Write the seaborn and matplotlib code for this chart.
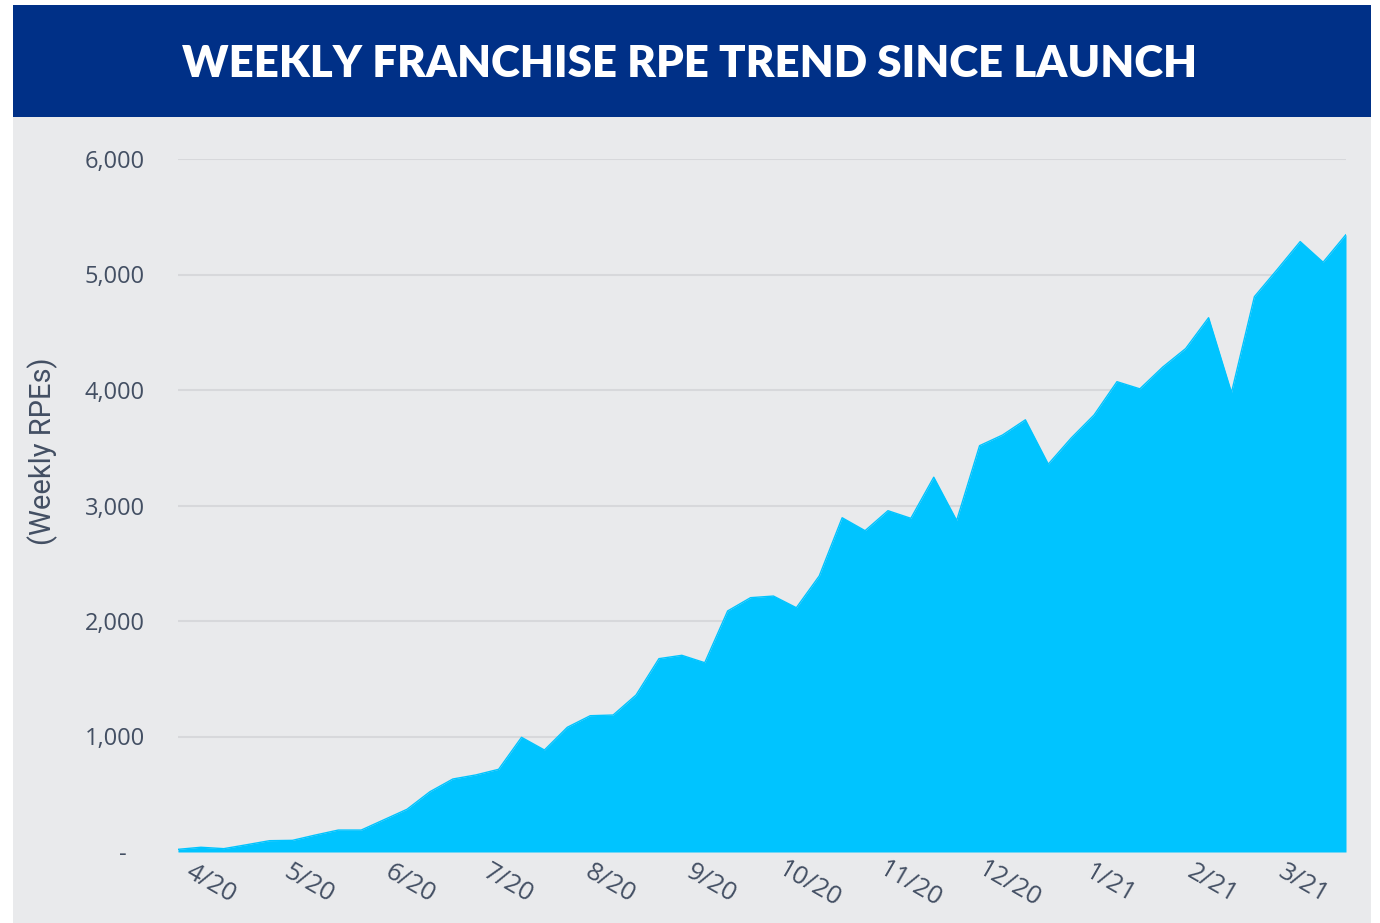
import matplotlib
matplotlib.use("Agg")
import matplotlib.pyplot as plt
from matplotlib.patches import Rectangle
import seaborn as sns
import pandas as pd

# ---- data ----
first_week = "2020-03-22"
weekly_rpes = [23, 41, 29, 63, 98, 101, 147, 190, 190, 280,
               370, 522, 632, 667, 716, 993, 883, 1080, 1180, 1186,
               1359, 1674, 1703, 1639, 2087, 2202, 2216, 2115, 2390, 2894,
               2782, 2955, 2889, 3245, 2870, 3518, 3610, 3742, 3358, 3584,
               3784, 4072, 4010, 4199, 4359, 4626, 3978, 4808, 5044, 5285,
               5106, 5346]
month_ticks = ["2020-04-01", "2020-05-01", "2020-06-01", "2020-07-01", "2020-08-01",
               "2020-09-01", "2020-10-01", "2020-11-01", "2020-12-01", "2021-01-01",
               "2021-02-01", "2021-03-01"]
month_labels = ["4/20", "5/20", "6/20", "7/20", "8/20", "9/20", "10/20", "11/20",
                "12/20", "1/21", "2/21", "3/21"]
y_ticks = [0, 1000, 2000, 3000, 4000, 5000, 6000]
y_labels = ["-   ", "1,000", "2,000", "3,000", "4,000", "5,000", "6,000"]
title = "WEEKLY FRANCHISE RPE TREND SINCE LAUNCH"
y_title = "(Weekly RPEs)"

weeks = pd.date_range(first_week, periods=len(weekly_rpes), freq="7D")
df = pd.DataFrame({"week": weeks, "rpes": weekly_rpes})

# ---- style ----
sns.set_theme(style="white")
plt.rcParams["font.family"] = ["Open Sans", "DejaVu Sans"]

NAVY = "#003087"
PANEL = "#e9eaec"
AREA = "#00c4ff"
TXT = "#434f63"
GRID = "#d7d8db"

W, H = 1380, 923
fig = plt.figure(figsize=(W / 100, H / 100), dpi=100, facecolor="white")

# background panels
fig.patches.append(Rectangle((13 / W, 0), (1371 - 13) / W, 1 - 117 / H,
                             transform=fig.transFigure, facecolor=PANEL,
                             edgecolor="none", zorder=-10))
fig.patches.append(Rectangle((13 / W, 1 - 117 / H), (1371 - 13) / W, (117 - 5) / H,
                             transform=fig.transFigure, facecolor=NAVY,
                             edgecolor="none", zorder=-10))

ax = fig.add_axes([178 / W, 1 - 852 / H, (1346 - 178) / W, (852 - 159) / H])
ax.set_facecolor("none")

ax.fill_between(df["week"], 0, df["rpes"], color=AREA, linewidth=0, zorder=2)
sns.lineplot(data=df, x="week", y="rpes", ax=ax, color=AREA, linewidth=1, zorder=3)

ax.set_xlim(weeks[0], weeks[-1])
ax.set_ylim(0, 6000)

ax.set_yticks(y_ticks)
ax.set_yticklabels(y_labels)
ax.yaxis.grid(True, color=GRID, linewidth=1.5, zorder=0)
ax.xaxis.grid(False)
ax.set_axisbelow(True)
ax.tick_params(axis="y", length=0, pad=24, labelsize=17, labelcolor=TXT)

ticks = pd.to_datetime(month_ticks)
ax.set_xticks(ticks)
ax.set_xticklabels(month_labels)
ax.tick_params(axis="x", length=0, pad=23, labelsize=18.5, labelcolor=TXT)
for lab in ax.get_xticklabels():
    lab.set_rotation(-30)
    lab.set_rotation_mode("anchor")
    lab.set_ha("center")
    lab.set_va("center")

for s in ax.spines.values():
    s.set_visible(False)
ax.set_xlabel("")
ax.set_ylabel("")

fig.text(43 / W, 1 - 451 / H, y_title, rotation=90, ha="center", va="center",
         fontsize=21, color=TXT, family=["Liberation Sans Narrow", "Roboto", "DejaVu Sans"])

fig.text(690 / W, 1 - 64 / H, title, ha="center", va="center", color="white",
         fontsize=31.5, fontweight="heavy", family=["Lato", "DejaVu Sans"])

fig.savefig("out.png", dpi=100, facecolor="white")
